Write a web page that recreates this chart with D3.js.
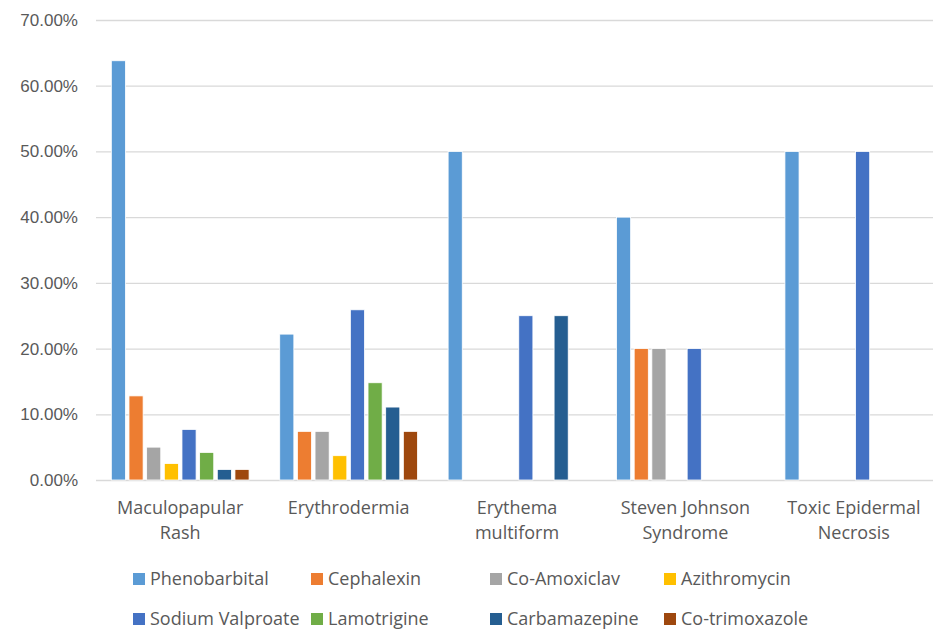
<!DOCTYPE html>
<html lang="en">
<head>
	<meta charset="utf-8">
	<title>Drug reactions</title>
	<script src="https://cdn.jsdelivr.net/npm/d3@7"></script>
	<style>
		body { margin: 0; background: #fff; }
		svg { display: block; font-family: "Open Sans", sans-serif; }
	</style>
</head>
<body>
	<script>
		//Data
		var categories = [["Maculopapular", "Rash"], ["Erythrodermia"], ["Erythema", "multiform"], ["Steven Johnson", "Syndrome"], ["Toxic Epidermal", "Necrosis"]];
		var drugs = ["Phenobarbital", "Cephalexin", "Co-Amoxiclav", "Azithromycin", "Sodium Valproate", "Lamotrigine", "Carbamazepine", "Co-trimoxazole"];
		var colors = ["#5B9BD5", "#ED7D31", "#A5A5A5", "#FFC000", "#4472C4", "#70AD47", "#255E91", "#9E480E"];
		// one row per drug, values per category (fraction)
		var values = [
			[0.638, 0.222, 0.50, 0.40, 0.50],
			[0.128, 0.074, 0, 0.20, 0],
			[0.050, 0.074, 0, 0.20, 0],
			[0.025, 0.037, 0, 0, 0],
			[0.077, 0.259, 0.25, 0.20, 0.50],
			[0.042, 0.148, 0, 0, 0],
			[0.016, 0.111, 0.25, 0, 0],
			[0.016, 0.074, 0, 0, 0]
		];
		var yTicks = [0, 0.1, 0.2, 0.3, 0.4, 0.5, 0.6, 0.7];

		//Width and height
		var w = 933, h = 643;
		var pLeft = 96, pRight = 938, pTop = 20, pBottom = 480;

		var svg = d3.select("body").append("svg")
			.attr("width", w)
			.attr("height", h);

		var x0 = d3.scaleBand()
			.domain(d3.range(categories.length))
			.range([pLeft, pRight])
			.paddingInner(0.182)
			.paddingOuter(0.091);

		var x1 = d3.scaleBand()
			.domain(d3.range(drugs.length))
			.range([0, x0.bandwidth()])
			.paddingInner(0.2);

		var y = d3.scaleLinear()
			.domain([0, 0.7])
			.range([pBottom, pTop]);

		var fmt = d3.format(".2%");

		//Gridlines and y labels
		var yAxis = d3.axisLeft(y)
			.tickValues(yTicks)
			.tickFormat(fmt)
			.tickSize(-(pRight - pLeft))
			.tickPadding(18);

		var ga = svg.append("g")
			.attr("transform", "translate(" + pLeft + ",0)")
			.call(yAxis);
		ga.select(".domain").remove();
		ga.selectAll("line").attr("stroke", "#D9D9D9").attr("stroke-width", 1.3);
		ga.selectAll("text")
			.attr("fill", "#595959")
			.style("font-size", "17px");

		//Bars
		var groups = svg.selectAll("g.series")
			.data(values)
			.enter()
			.append("g")
			.attr("class", "series")
			.attr("fill", function(d, i) { return colors[i]; });

		groups.each(function(row, i) {
			d3.select(this).selectAll("rect")
				.data(row.map(function(v, j) { return { v: v, j: j }; }).filter(function(d) { return d.v > 0; }))
				.enter()
				.append("rect")
				.attr("x", function(d) { return x0(d.j) + x1(i); })
				.attr("y", function(d) { return y(d.v); })
				.attr("width", x1.bandwidth())
				.attr("height", function(d) { return y(0) - y(d.v); })
				.attr("stroke", "#fff")
				.attr("stroke-width", 0.8);
		});

		//Category labels
		var cl = svg.selectAll("text.cat")
			.data(categories)
			.enter()
			.append("text")
			.attr("class", "cat")
			.attr("text-anchor", "middle")
			.attr("fill", "#595959")
			.style("font-size", "18px")
			.attr("transform", function(d, i) { return "translate(" + (x0(i) + x0.bandwidth() / 2) + ",514)"; });
		cl.selectAll("tspan")
			.data(function(d) { return d; })
			.enter()
			.append("tspan")
			.attr("x", 0)
			.attr("y", function(d, i) { return i * 25; })
			.text(function(d) { return d; });

		//Legend
		var legX = [133, 311, 490, 664];
		var legY = [579, 619];
		var leg = svg.selectAll("g.leg")
			.data(drugs)
			.enter()
			.append("g")
			.attr("class", "leg")
			.attr("transform", function(d, i) { return "translate(" + legX[i % 4] + "," + legY[Math.floor(i / 4)] + ")"; });
		leg.append("rect")
			.attr("x", 0)
			.attr("y", -6)
			.attr("width", 12)
			.attr("height", 12)
			.attr("fill", function(d, i) { return colors[i]; });
		leg.append("text")
			.attr("x", 17)
			.attr("y", 6)
			.attr("fill", "#595959")
			.style("font-size", "18px")
			.text(function(d) { return d; });
	</script>
</body>
</html>
